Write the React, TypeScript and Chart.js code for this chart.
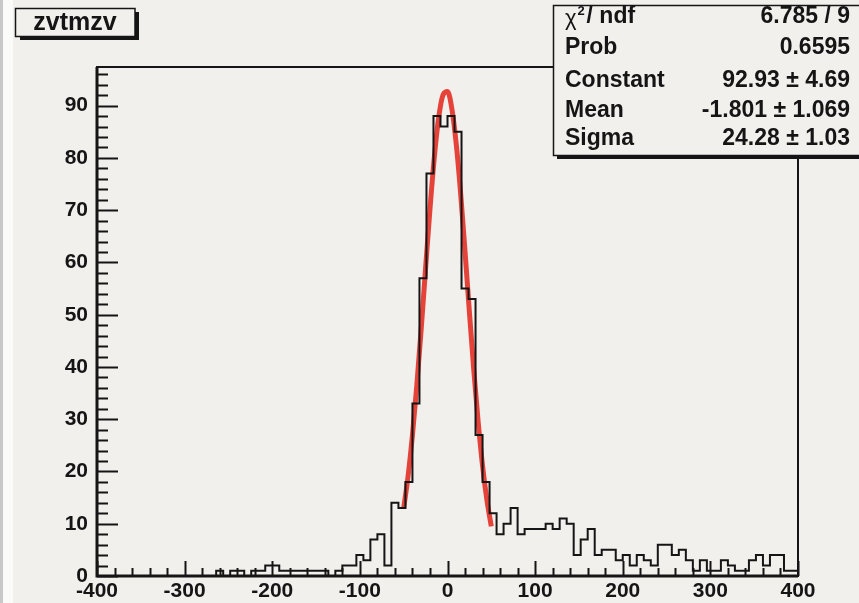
import React, { useEffect, useRef } from 'react';
import { Chart, registerables } from 'chart.js';

Chart.register(...registerables);

// ---------- data ----------
const histTitle = 'zvtmzv';
const binStart = -400;
const binWidth = 8;
// counts per bin, 100 bins from -400 to 400
const counts = [
  0, 0, 0, 0, 0, 0, 0, 0, 0, 0, 0, 0, 0, 0, 0, 0, 0,
  1, 0, 1, 1, 0, 1, 1, 2, 2, 1, 1, 1, 1, 1, 1, 1, 0, 1, 2, 2,
  4, 3, 7, 8, 2, 14, 13,
  18, 33, 57, 77, 88, 86, 88, 85, 55, 53, 27, 18,
  12, 8, 10, 13, 8, 9, 9, 9, 10, 9, 11, 10,
  4, 7, 9, 4, 5, 5, 3, 4, 2, 4, 3, 2, 6, 6, 4, 5, 3,
  1, 3, 1, 1, 3, 2, 1, 1, 3, 4, 2, 4, 4, 1, 1,
];
// fitted gaussian curve
const fitX = [-50, -45, -40, -35, -30, -25, -20, -15, -10, -5, 0, 5, 10, 15, 20, 25, 30, 35, 40, 45, 50];
const fitY = [13.0, 19.1, 27.0, 36.5, 47.3, 58.9, 70.2, 80.2, 87.8, 92.1, 92.7, 89.4, 82.6, 73.2, 62.1, 50.5, 39.4, 29.5, 21.1, 14.5, 9.5];

const xTicks = [-400, -300, -200, -100, 0, 100, 200, 300, 400];
const yTicks = [0, 10, 20, 30, 40, 50, 60, 70, 80, 90];
const xMin = -400;
const xMax = 400;
const yMin = 0;
const yMax = 97.4;

const statLabels = ['ndf', 'Prob', 'Constant', 'Mean', 'Sigma'];
const statValues = ['6.785 / 9', '0.6595', '92.93 \u00b1 4.69', '-1.801 \u00b1 1.069', '24.28 \u00b1 1.03'];

// ---------- styling ----------
const BG = '#f2f0ed';
const INK = '#151515';
const FONT = '"Liberation Sans", Arial, Helvetica, sans-serif';

const rootPlugin = {
  id: 'rootStyle',
  beforeDraw(chart: any) {
    const { ctx, width, height } = chart;
    ctx.save();
    ctx.fillStyle = BG;
    ctx.fillRect(0, 0, width, height);
    ctx.fillStyle = '#c8c8c8';
    ctx.fillRect(0, 0, 3, height);
    ctx.fillStyle = '#fbfbfa';
    ctx.fillRect(3, 0, 10, height);
    ctx.restore();
  },
  afterDatasetsDraw(chart: any) {
    const { ctx, chartArea: a, scales } = chart;
    const xs = scales.x;
    const ys = scales.y;
    ctx.save();
    ctx.strokeStyle = INK;
    // frame
    ctx.lineWidth = 2;
    ctx.strokeRect(a.left, a.top, a.right - a.left, a.bottom - a.top);
    ctx.lineWidth = 3;
    ctx.beginPath();
    ctx.moveTo(a.left, a.top);
    ctx.lineTo(a.left, a.bottom);
    ctx.lineTo(a.right, a.bottom);
    ctx.stroke();
    // y ticks (inside)
    ctx.lineWidth = 2;
    for (let i = 0; i * 2 <= yMax; i++) {
      const v = i * 2;
      const py = Math.round(ys.getPixelForValue(v)) + 0.5;
      const len = i % 5 === 0 ? 21 : 11;
      ctx.beginPath();
      ctx.moveTo(a.left, py);
      ctx.lineTo(a.left + len, py);
      ctx.stroke();
    }
    // x ticks (inside)
    for (let i = 0; i <= 40; i++) {
      const v = xMin + i * 20;
      const px = Math.round(xs.getPixelForValue(v)) + 0.5;
      const len = i % 5 === 0 ? 15 : 8;
      ctx.beginPath();
      ctx.moveTo(px, a.bottom);
      ctx.lineTo(px, a.bottom - len);
      ctx.stroke();
    }
    ctx.restore();
  },
  afterDraw(chart: any) {
    const { ctx } = chart;
    ctx.save();
    // title box
    ctx.fillStyle = INK;
    ctx.fillRect(20, 36, 119, 4);
    ctx.fillRect(135, 12, 4, 28);
    ctx.fillStyle = BG;
    ctx.fillRect(15, 8, 120, 28);
    ctx.strokeStyle = INK;
    ctx.lineWidth = 1.5;
    ctx.strokeRect(15.5, 8.5, 119.5, 28);
    ctx.fillStyle = INK;
    ctx.font = `bold 25px ${FONT}`;
    ctx.textAlign = 'center';
    ctx.textBaseline = 'middle';
    ctx.fillText(histTitle, 75, 23);

    // stats box
    ctx.fillStyle = INK;
    ctx.fillRect(557, 155, 320, 4);
    ctx.fillStyle = BG;
    ctx.fillRect(553, 5, 320, 151);
    ctx.lineWidth = 1.5;
    ctx.strokeRect(553.5, 5.5, 320, 150);
    const rowsY = [17, 48, 81, 111, 139];
    ctx.fillStyle = INK;
    ctx.font = `bold 23px ${FONT}`;
    ctx.textBaseline = 'middle';
    for (let i = 0; i < statLabels.length; i++) {
      ctx.textAlign = 'left';
      if (i === 0) {
        ctx.font = `22px ${FONT}`;
        ctx.fillText('\u03c7', 565, rowsY[i] + 2);
        const wChi = ctx.measureText('\u03c7').width;
        ctx.font = `bold 13px ${FONT}`;
        ctx.fillText('2', 565 + wChi + 1, rowsY[i] - 6);
        ctx.font = `bold 23px ${FONT}`;
        ctx.fillText('/ ' + statLabels[i], 565 + wChi + 10, rowsY[i]);
      } else {
        ctx.fillText(statLabels[i], 565, rowsY[i]);
      }
      ctx.textAlign = 'right';
      ctx.fillText(statValues[i], 850, rowsY[i]);
    }
    ctx.restore();
  },
};

export default function App() {
  const ref = useRef<HTMLCanvasElement | null>(null);
  useEffect(() => {
    if (!ref.current) return;
    const histPoints = counts.map((c, i) => ({ x: binStart + i * binWidth, y: c }));
    histPoints.push({ x: binStart + counts.length * binWidth, y: counts[counts.length - 1] });
    const fitPoints = fitX.map((x, i) => ({ x, y: fitY[i] }));
    const tickFont = { family: FONT, size: 21, weight: 'bold' as const };
    const chart = new Chart(ref.current, {
      type: 'line',
      data: {
        datasets: [
          {
            data: histPoints,
            stepped: 'before',
            borderColor: INK,
            borderWidth: 2,
            pointRadius: 0,
            fill: false,
          },
          {
            data: fitPoints,
            borderColor: '#e5433a',
            borderWidth: 5,
            pointRadius: 0,
            cubicInterpolationMode: 'monotone',
            fill: false,
          },
        ],
      },
      options: {
        animation: false,
        responsive: false,
        maintainAspectRatio: false,
        devicePixelRatio: 1,
        layout: { padding: { top: 67, right: 61, left: 0, bottom: 0 } },
        plugins: {
          legend: { display: false },
          tooltip: { enabled: false },
          title: { display: false },
        },
        scales: {
          x: {
            type: 'linear',
            min: xMin,
            max: xMax,
            grid: { display: false, drawTicks: false },
            border: { display: false },
            ticks: {
              autoSkip: false,
              maxRotation: 0,
              padding: 3,
              color: INK,
              font: tickFont,
              callback: (v: any) => String(v),
            },
            afterBuildTicks: (s: any) => {
              s.ticks = xTicks.map((v) => ({ value: v }));
            },
            afterFit: (s: any) => {
              s.height = 27;
            },
          },
          y: {
            type: 'linear',
            min: yMin,
            max: yMax,
            grid: { display: false, drawTicks: false },
            border: { display: false },
            ticks: {
              autoSkip: false,
              padding: 9,
              color: INK,
              font: tickFont,
              callback: (v: any) => String(v),
            },
            afterBuildTicks: (s: any) => {
              s.ticks = yTicks.map((v) => ({ value: v }));
            },
            afterFit: (s: any) => {
              s.width = 97;
            },
          },
        },
      },
      plugins: [rootPlugin],
    } as any);
    return () => chart.destroy();
  }, []);
  return (
    <div style={{ position: 'absolute', left: 0, top: 0, width: 859, height: 603 }}>
      <canvas ref={ref} width={859} height={603} style={{ display: 'block', width: 859, height: 603 }} />
    </div>
  );
}
